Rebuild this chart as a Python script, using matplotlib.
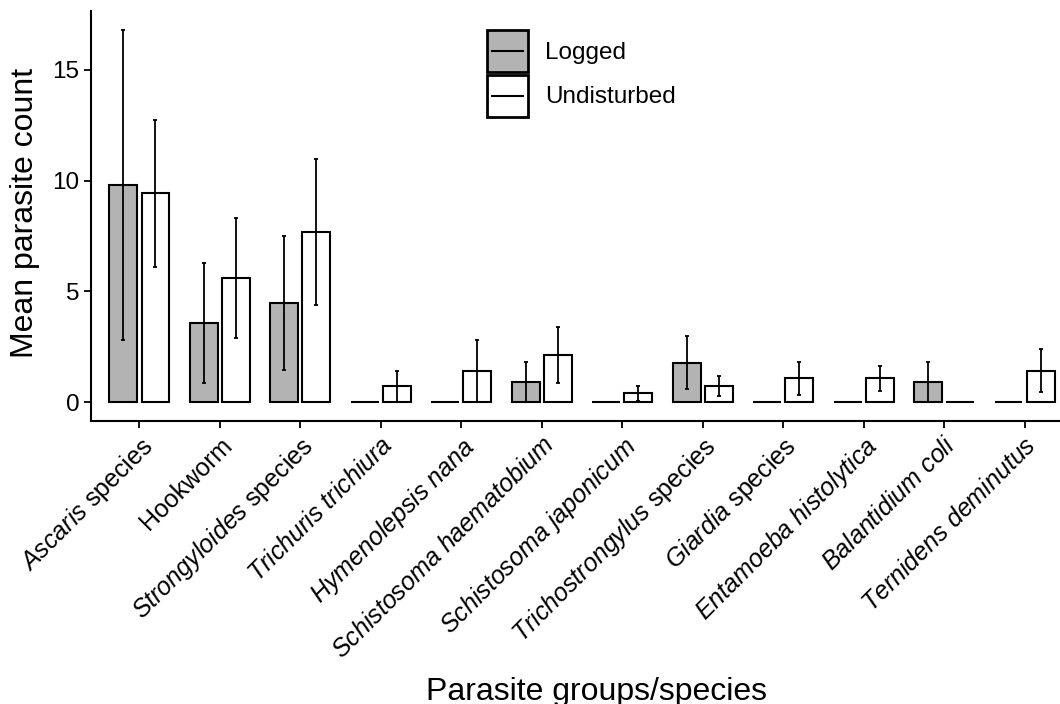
import matplotlib
matplotlib.use("Agg")
import matplotlib.pyplot as plt
from matplotlib.patches import Rectangle
from matplotlib.lines import Line2D
from matplotlib.legend_handler import HandlerBase
import numpy as np

plt.rcParams["font.family"] = ["Liberation Sans", "DejaVu Sans"]
plt.rcParams["mathtext.fontset"] = "custom"
plt.rcParams["mathtext.rm"] = "Liberation Sans"
plt.rcParams["mathtext.it"] = "Liberation Sans:italic"

# parasite groups, mean counts and error half-widths
labels = [
    r"$\mathit{Ascaris}$ species",
    "Hookworm",
    r"$\mathit{Strongyloides}$ species",
    r"$\mathit{Trichuris\ trichiura}$",
    r"$\mathit{Hymenolepsis\ nana}$",
    r"$\mathit{Schistosoma\ haematobium}$",
    r"$\mathit{Schistosoma\ japonicum}$",
    r"$\mathit{Trichostrongylus}$ species",
    r"$\mathit{Giardia}$ species",
    r"$\mathit{Entamoeba\ histolytica}$",
    r"$\mathit{Balantidium\ coli}$",
    r"$\mathit{Ternidens\ deminutus}$",
]
logged = [9.8, 3.58, 4.48, 0, 0, 0.91, 0, 1.79, 0, 0, 0.91, 0]
logged_err = [7.0, 2.7, 3.0, 0, 0, 0.9, 0, 1.2, 0, 0, 0.9, 0]
undisturbed = [9.42, 5.6, 7.68, 0.73, 1.42, 2.13, 0.4, 0.74, 1.09, 1.09, 0, 1.43]
undisturbed_err = [3.3, 2.7, 3.3, 0.7, 1.4, 1.25, 0.33, 0.47, 0.75, 0.57, 0, 0.97]

grey = "#b3b3b3"
x = np.arange(len(labels))
off = 0.2
w = 0.345


class BoxLineHandler(HandlerBase):
    # filled key box with a horizontal error-bar line through its middle
    def create_artists(self, legend, orig_handle, xdescent, ydescent,
                       width, height, fontsize, trans):
        x0, y0 = -xdescent, -ydescent
        rect = Rectangle((x0, y0), width, height, facecolor=orig_handle.get_facecolor(),
                         edgecolor="black", linewidth=2.0, transform=trans)
        ym = y0 + height / 2
        line = Line2D([x0 + 0.12 * width, x0 + 0.88 * width], [ym, ym],
                      color="black", linewidth=1.5, transform=trans)
        return [rect, line]


fig = plt.figure(figsize=(10.6, 7.04), dpi=100)
ax = fig.add_axes([91 / 1060, 283 / 704, 982 / 1060, 410 / 704])

ax.bar(x - off, logged, w, color=grey, edgecolor="black", linewidth=1.5, zorder=2)
ax.bar(x + off, undisturbed, w, color="white", edgecolor="black", linewidth=1.5, zorder=2)


def draw_err(xs, ys, es):
    xs = np.asarray(xs)
    ys = np.asarray(ys)
    es = np.asarray(es)
    m = es > 0
    ax.errorbar(xs[m], ys[m], yerr=es[m], fmt="none", ecolor="black",
                elinewidth=1.3, capsize=1.2, capthick=1.3, zorder=3)


draw_err(x - off, logged, logged_err)
draw_err(x + off, undisturbed, undisturbed_err)

ax.set_xlim(-0.6, 11.6)
ax.set_ylim(-0.84, 17.64)
ax.set_yticks([0, 5, 10, 15])
ax.set_xticks(x)
ax.set_xticklabels(labels, rotation=45, ha="right", va="top",
                   rotation_mode="anchor", fontsize=18)
ax.tick_params(axis="y", labelsize=17.5, length=5, width=1.3, pad=3.5, colors="black")
ax.tick_params(axis="x", length=5, width=1.3, pad=3.5, colors="black")

for s in ["top", "right"]:
    ax.spines[s].set_visible(False)
for s in ["left", "bottom"]:
    ax.spines[s].set_linewidth(1.5)

fig.text(25 / 1060, 1 - 213 / 704, "Mean parasite count", rotation=90,
         ha="center", va="center", fontsize=23)
fig.text(596 / 1060, 1 - 700 / 704, "Parasite groups/species",
         ha="center", va="baseline", fontsize=23)

handles = [Rectangle((0, 0), 1, 1, facecolor=grey),
           Rectangle((0, 0), 1, 1, facecolor="white")]
fig.legend(handles, ["Logged", "Undisturbed"], loc="upper left",
           handler_map={Rectangle: BoxLineHandler()},
           bbox_to_anchor=(487 / 1060, 1 - 30 / 704), frameon=False,
           fontsize=17.5, handlelength=1.69, handleheight=2.28,
           labelspacing=0.12, handletextpad=0.7, borderpad=0, borderaxespad=0)

fig.savefig("out.png", dpi=100)
